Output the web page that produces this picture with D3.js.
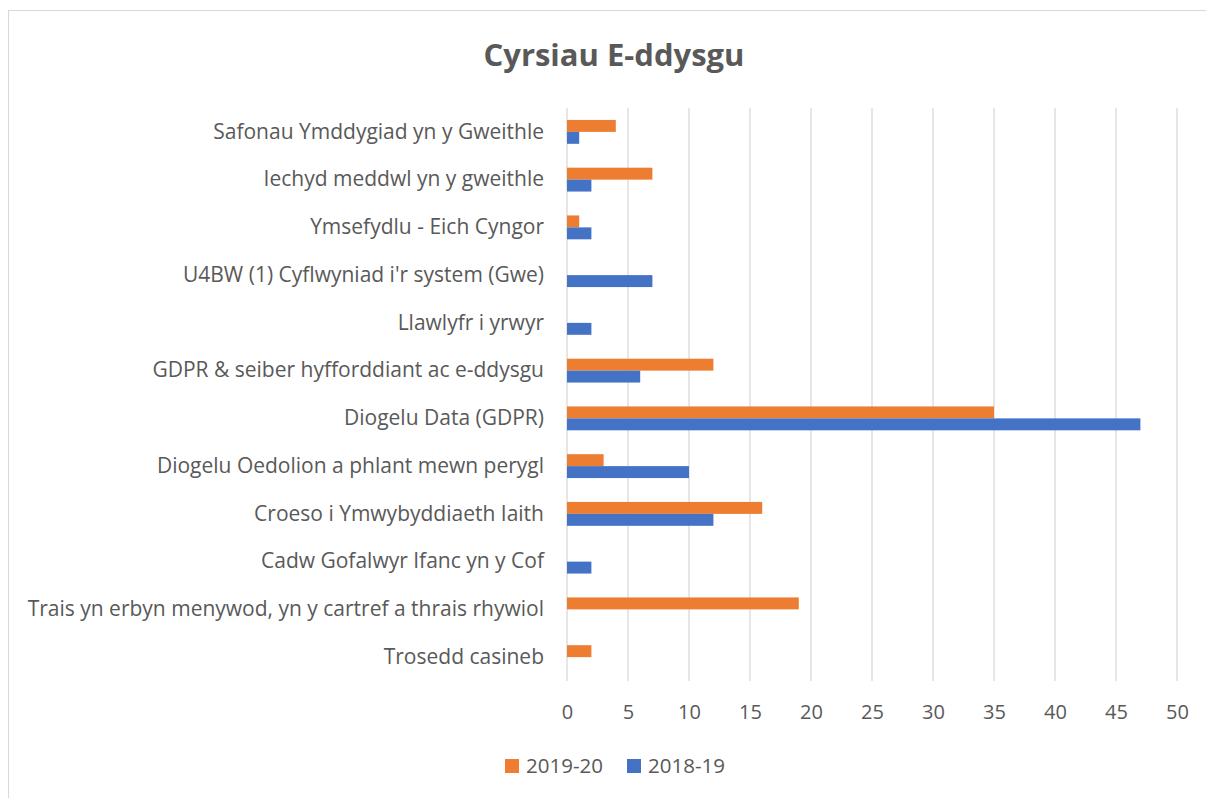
<!DOCTYPE html>
<html>
<head>
<meta charset="utf-8">
<script src="https://cdn.jsdelivr.net/npm/d3@7"></script>
<style>
  body { margin: 0; background: #fff; }
  svg text { font-family: "Open Sans", "Noto Sans", sans-serif; fill: #595959; }
</style>
</head>
<body>
<div class="artboard"></div>
<script>
// categories, top to bottom as in the chart
var categories = [
  'Safonau Ymddygiad yn y Gweithle ',
  'Iechyd meddwl yn y gweithle',
  'Ymsefydlu - Eich Cyngor',
  "U4BW (1) Cyflwyniad i'r system (Gwe)",
  'Llawlyfr i yrwyr',
  'GDPR & seiber hyfforddiant ac e-ddysgu ',
  'Diogelu Data (GDPR)',
  'Diogelu Oedolion a phlant mewn perygl',
  'Croeso i Ymwybyddiaeth Iaith',
  'Cadw Gofalwyr Ifanc yn y Cof',
  'Trais yn erbyn menywod, yn y cartref a thrais rhywiol',
  'Trosedd casineb'
];
var values2019 = [4, 7, 1, 0, 0, 12, 35, 3, 16, 0, 19, 2];
var values2018 = [1, 2, 2, 7, 2, 6, 47, 10, 12, 2, 0, 0];
var seriesNames = ['2019-20', '2018-19'];
var seriesColors = ['#ED7D31', '#4472C4'];
var xTicks = [0, 5, 10, 15, 20, 25, 30, 35, 40, 45, 50];
var title = 'Cyrsiau E-ddysgu';

var width = 1206;
var height = 798;
var margin = { top: 108, right: 29, bottom: 117, left: 567 };
var plotW = width - margin.left - margin.right;
var plotH = height - margin.top - margin.bottom;

var svg = d3.select('.artboard').append('svg')
  .attr('width', width)
  .attr('height', height);

// chart frame
svg.append('rect')
  .attr('x', 8.5).attr('y', 10.5)
  .attr('width', width).attr('height', height)
  .attr('fill', 'none')
  .attr('stroke', '#d9d9d9');

svg.append('text')
  .attr('x', 614).attr('y', 66)
  .attr('text-anchor', 'middle')
  .style('font-size', '31px')
  .style('font-weight', 'bold')
  .text(title);

var g = svg.append('g')
  .attr('transform', 'translate(' + margin.left + ',' + margin.top + ')');

var x = d3.scaleLinear().domain([0, 50]).range([0, plotW]);
var y = d3.scaleBand().domain(categories).range([0, plotH]).paddingInner(0.5).paddingOuter(0.25);
var ySub = d3.scaleBand().domain(seriesNames).range([0, y.bandwidth()]);

// gridlines
g.selectAll('.grid')
  .data(xTicks)
  .enter().append('line')
  .attr('x1', function(d) { return x(d); })
  .attr('x2', function(d) { return x(d); })
  .attr('y1', 0).attr('y2', plotH)
  .attr('stroke', '#d9d9d9')
  .attr('stroke-width', 1.3);

var rows = categories.map(function(c, i) {
  return { cat: c, vals: [values2019[i], values2018[i]] };
});

var groups = g.selectAll('.row')
  .data(rows)
  .enter().append('g')
  .attr('transform', function(d) { return 'translate(0,' + y(d.cat) + ')'; });

groups.selectAll('rect')
  .data(function(d) { return d.vals.map(function(v, j) { return { s: seriesNames[j], v: v, j: j }; }); })
  .enter().append('rect')
  .attr('x', x(0))
  .attr('y', function(d) { return ySub(d.s); })
  .attr('width', function(d) { return x(d.v) - x(0); })
  .attr('height', ySub.bandwidth())
  .attr('fill', function(d) { return seriesColors[d.j]; });

// category labels
var yAxis = g.append('g')
  .call(d3.axisLeft(y).tickSize(0).tickPadding(23));
yAxis.select('.domain').remove();
yAxis.selectAll('text')
  .style('font-size', '21px')
  .attr('fill', '#595959');

// x tick labels
var xAxis = g.append('g')
  .attr('transform', 'translate(0,' + plotH + ')')
  .call(d3.axisBottom(x).tickValues(xTicks).tickSize(0).tickPadding(24));
xAxis.select('.domain').remove();
xAxis.selectAll('text')
  .style('font-size', '20px')
  .attr('fill', '#595959');

// legend
var legend = svg.append('g').attr('transform', 'translate(0,773)');
var legendX = [505, 627];
seriesNames.forEach(function(name, i) {
  legend.append('rect')
    .attr('x', legendX[i]).attr('y', -14)
    .attr('width', 14).attr('height', 14)
    .attr('fill', seriesColors[i]);
  legend.append('text')
    .attr('x', legendX[i] + 21).attr('y', 0)
    .style('font-size', '20.5px')
    .text(name);
});
</script>
</body>
</html>
